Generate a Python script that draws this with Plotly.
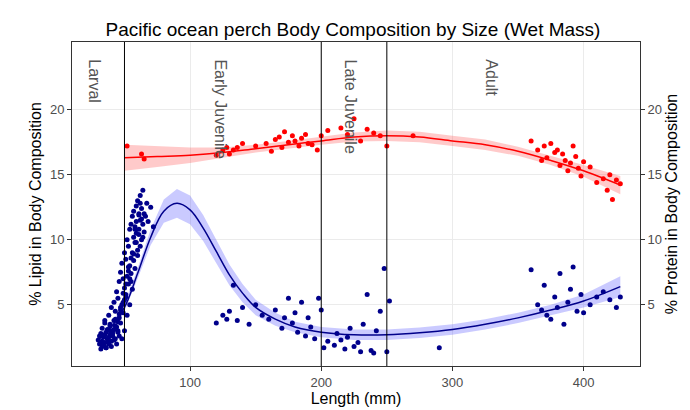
import plotly.graph_objects as go

# Lipid (blue) observations
lip_x = [30,31,32,33,33,34,35,35,36,36,37,37,38,38,39,39,40,40,41,41,42,42,43,43,44,44,45,45,46,46,47,47,48,48,49,49,50,50,51,51,52,52,53,53,54,54,55,55,56,56,57,57,58,58,59,59,60,60,61,61,62,62,63,63,64,64,65,65,66,67,68,70,72,
         32,34,36,38,40,42,44,46,48,50,52,54,56,58,60,62,64,35,39,43,47,51,55,59,63,45,49,53,57,61,
         31,33,35,37,39,41,43,45,47,49,51,53,55,57,59,61,34,38,42,46,50,54,58,62,
         120,125,128,130,133,136,140,145,150,155,160,165,170,172,175,178,180,182,185,188,190,192,195,198,200,202,205,210,212,215,218,220,222,225,228,230,232,235,238,240,242,245,248,250,252,
         290,360,365,368,370,372,375,378,380,382,385,388,390,392,395,398,400,405,410,415,420,425,428]
lip_y = [2.3,2.0,2.8,1.8,3.2,2.5,2.1,3.6,2.9,1.7,2.4,3.1,2.0,4.2,2.7,3.5,2.2,4.8,3.0,2.6,3.8,5.2,2.4,4.5,3.3,6.0,2.9,5.5,4.0,6.8,3.6,7.5,5.0,8.2,4.4,7.0,6.3,9.0,5.8,8.5,7.2,10.0,6.6,9.5,8.0,10.8,7.4,11.2,9.0,11.8,8.4,12.2,9.8,11.0,10.5,12.6,9.2,13.0,10.8,12.0,11.5,13.4,10.0,12.4,11.2,13.8,12.0,10.6,11.8,12.8,11.4,12.5,11.0,
         1.6,1.9,1.7,2.1,1.8,2.3,2.0,2.6,2.4,3.0,4.2,5.0,6.2,7.8,8.8,9.5,10.2,3.8,3.4,3.9,4.8,5.6,6.8,9.8,11.6,3.0,5.9,7.6,8.9,10.4,
         2.6,2.2,2.7,2.4,3.0,2.8,3.4,3.7,4.6,5.2,6.6,7.9,8.6,10.2,11.4,11.9,2.0,2.5,3.1,4.3,5.4,7.0,10.8,12.8,
         3.6,4.2,3.9,4.5,6.5,3.8,4.8,3.5,5.0,4.2,3.9,4.6,3.2,4.0,5.5,3.6,4.4,2.9,5.2,2.6,4.0,3.3,2.4,5.5,4.6,1.7,2.2,1.9,2.8,2.3,1.6,2.5,3.2,1.8,2.1,1.4,3.5,5.8,1.5,1.3,3.0,4.5,7.8,1.4,5.3,
         1.7,7.7,5.0,4.6,6.5,4.2,3.9,5.6,4.8,7.4,3.5,5.2,6.2,7.9,4.5,5.8,4.4,5.0,5.6,6.0,5.4,4.8,5.6]

# Protein (red) observations
pro_x = [52,63,65,120,125,128,130,133,136,140,150,158,162,165,168,170,172,175,178,180,183,185,188,190,193,197,200,205,215,220,225,230,235,240,245,250,270,
         360,365,368,370,372,375,378,380,382,384,386,388,390,392,394,396,398,400,405,410,415,418,420,422,425,428]
pro_y = [17.2,16.6,16.2,16.5,16.9,17.1,16.6,16.9,17.1,17.4,17.2,17.4,16.8,17.7,17.9,17.1,18.3,17.5,18.0,17.6,17.2,17.8,18.1,17.4,17.3,16.9,18.0,18.4,18.6,18.1,19.3,17.6,18.5,18.2,18.0,17.2,18.0,
         17.6,16.9,16.1,17.2,16.3,17.4,16.7,16.9,15.7,16.6,16.1,15.3,15.9,17.2,16.4,15.5,14.9,16.0,15.6,14.4,14.7,13.8,15.0,13.1,14.6,14.3]

# Smooth fits
lfit_x = [30,40,50,60,70,80,90,100,110,120,130,140,150,165,180,200,225,250,275,300,325,350,375,400,428]
lfit_y = [2.3,3.3,4.8,7.4,10.2,12.2,12.8,12.3,10.9,9.1,7.3,5.9,4.8,3.9,3.3,2.9,2.7,2.7,2.85,3.1,3.5,4.0,4.6,5.3,6.4]
lfit_se = [0.4,0.3,0.3,0.4,0.6,0.9,1.1,1.1,1.0,0.9,0.8,0.7,0.6,0.5,0.4,0.4,0.4,0.4,0.4,0.4,0.4,0.4,0.4,0.5,0.8]
pfit_x = [50,75,100,125,150,175,200,225,250,275,300,325,350,375,400,428]
pfit_y = [16.3,16.4,16.5,16.7,17.0,17.3,17.6,17.9,18.0,17.9,17.6,17.3,16.8,16.1,15.3,14.2]
pfit_se = [1.0,0.8,0.6,0.4,0.3,0.3,0.3,0.35,0.4,0.4,0.4,0.4,0.35,0.35,0.45,0.7]

stage_lines = [50,200,250]
stage_labels = ["Larval","Early Juvenile","Late Juvenile","Adult"]
stage_label_x = [27,123,222,330]

fig = go.Figure()
def band(x,y,se,col):
    fig.add_trace(go.Scatter(x=x+x[::-1], y=[a+b for a,b in zip(y,se)]+[a-b for a,b in zip(y,se)][::-1],
        fill="toself", fillcolor=col, line=dict(width=0), mode="lines", hoverinfo="skip", showlegend=False))
band(lfit_x,lfit_y,lfit_se,"rgba(80,80,255,0.3)")
band(pfit_x,pfit_y,pfit_se,"rgba(255,80,80,0.3)")
fig.add_trace(go.Scatter(x=lip_x,y=lip_y,mode="markers",marker=dict(color="#00008B",size=5),showlegend=False))
fig.add_trace(go.Scatter(x=pro_x,y=pro_y,mode="markers",marker=dict(color="red",size=5),showlegend=False))
fig.add_trace(go.Scatter(x=lfit_x,y=lfit_y,mode="lines",line=dict(color="#00008B",width=1.5,shape="spline"),showlegend=False))
fig.add_trace(go.Scatter(x=pfit_x,y=pfit_y,mode="lines",line=dict(color="red",width=1.5,shape="spline"),showlegend=False))
fig.add_trace(go.Scatter(x=[0],y=[0],yaxis="y2",mode="markers",marker=dict(opacity=0),showlegend=False,hoverinfo="skip"))
for v in stage_lines:
    fig.add_vline(x=v,line=dict(color="black",width=1))
for lab,xv in zip(stage_labels,stage_label_x):
    fig.add_annotation(x=xv,y=24.0,text=lab,textangle=90,showarrow=False,yanchor="top",
                       font=dict(size=16,color="#555555"))
ax = dict(showline=True,linecolor="#333333",mirror=True,gridcolor="#EBEBEB",ticks="outside",
          tickcolor="#333333",ticklen=4,tickfont=dict(size=13,color="#4D4D4D"),zeroline=False,
          title_font=dict(size=16,color="black"))
fig.update_layout(
    width=690,height=410,plot_bgcolor="white",paper_bgcolor="white",
    font=dict(family="Liberation Sans, Arial"),
    title=dict(text="Pacific ocean perch Body Composition by Size (Wet Mass)",x=0.5,y=0.965,font=dict(size=19,color="black")),
    margin=dict(l=64,r=58,t=34,b=52),
    xaxis=dict(ax,range=[10,443],tickvals=[100,200,300,400],title_text="Length (mm)",title_standoff=3),
    yaxis=dict(ax,range=[0.3,25.2],tickvals=[5,10,15,20],title_text="% Lipid in Body Composition",title_standoff=4),
    yaxis2=dict(ax,range=[0.3,25.2],tickvals=[5,10,15,20],overlaying="y",side="right",
                title_text="% Protein in Body Composition",showgrid=False,title_standoff=4),
)
fig.write_html("out.html")
